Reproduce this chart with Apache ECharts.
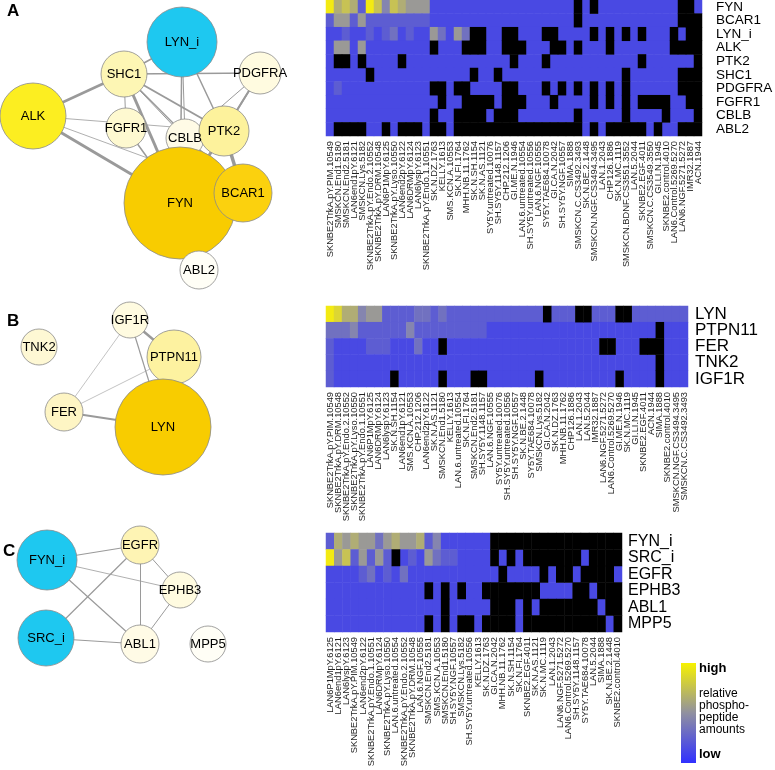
<!DOCTYPE html>
<html><head><meta charset="utf-8">
<script src="https://cdn.jsdelivr.net/npm/echarts@6/dist/echarts.min.js"></script>
<style>html,body{margin:0;padding:0;background:#fff}#c{width:775px;height:770px}</style>
</head><body><div id="c"></div>
<script>
// ---------- heatmap A ----------
const rowsA = ['FYN','BCAR1','LYN_i','ALK','PTK2','SHC1','PDGFRA','FGFR1','CBLB','ABL2'];
const colsA = ['SKNBE2TrkA.pY.PIM.10549','SMSKCN.End1.5180','SMSKCN.End2.5181','LAN6end1pY.6121','SMSKCN.Lys.5182','SKNBE2TrkA.pY.Endo.2.10552','SKNBE2TrkA.pY.DRM.10548','LAN6P1MpY.6125','SKNBE2TrkA.pY.Lyso.10550','LAN6end2pY.6122','LAN6DRMpY.6124','LAN6lyspY.6123','SKNBE2TrkA.pY.Endo.1.10551','SK.N.DZ.1763','KELLY.1613','SMS.KCN.A.10553','SK.N.FI.1764','MHH.NB.11.1762','SK.N.SH.1154','SK.N.AS.1121','SY5Y.untreated.10076','SH.SY5Y.1148.1157','CHP.212.1206','GI.ME.N.1946','LAN.6.untreated.10554','SH.SY5Y.untreated.10556','LAN.6.NGF.10555','SY5Y.TAE684.10078','GI.CA.N.2042','SH.SY5Y.NGF.10557','SIMA.1888','SMSKCN.C.CS3492.3493','SK.N.BE.2.1448','SMSKCN.NGF.CS3494.3495','LAN.1.2043','CHP126.1886','SK.N.MC.1119','SMSKCN.BDNF.CS3551.3552','LAN.5.2044','SKNBE2.EGF.4011','SMSKCN.C.CS3549.3550','GI.LI.N.1945','SKNBE2.control.4010','LAN6.Control.5269.5270','LAN6.NGF.5271.5272','IMR32.1887','ACN.1944'];
// value scale 0 (low) .. 9 (high); -1 = not measured (black)
const A_FYN    = [9,6,7,6,2,9,7,4,7,6,5,5,5,1,1,1,1,1,1,1,1,1,1,1,1,1,1,1,1,1,1,-1,1,-1,1,1,1,1,1,1,1,1,1,1,-1,-1,1];
const A_BCAR1  = [2,5,5,2,5,2,2,2,2,2,2,2,2,1,1,1,1,1,1,1,1,1,1,1,1,1,1,1,1,1,1,-1,1,1,1,1,1,1,1,1,1,1,1,1,-1,-1,-1];
const A_LYN_i  = [1,1,2,1,1,2,1,2,3,1,2,1,1,5,3,1,5,3,-1,-1,1,1,-1,-1,1,1,1,-1,-1,1,1,1,1,-1,1,-1,1,-1,1,-1,1,1,1,-1,1,-1,-1];
const A_ALK    = [1,5,5,1,5,1,1,1,1,1,1,1,1,-1,1,1,1,-1,-1,-1,1,1,-1,-1,-1,1,1,1,-1,-1,1,-1,1,1,1,-1,1,1,1,1,1,1,1,-1,-1,-1,-1];
const A_PTK2   = [1,-1,-1,1,-1,1,1,1,1,-1,1,1,1,1,1,1,1,1,1,1,1,1,1,-1,1,1,1,-1,1,1,1,1,1,1,1,1,1,1,1,-1,1,1,1,1,1,1,-1];
const A_SHC1   = [1,1,1,1,1,-1,1,1,1,1,1,1,1,1,1,1,1,1,-1,1,1,-1,1,1,1,1,1,1,1,1,1,1,1,1,1,1,1,-1,1,1,1,1,1,1,-1,-1,-1];
const A_PDGFRA = [1,2,1,1,1,1,1,1,1,1,1,1,1,-1,-1,1,-1,-1,1,1,1,1,-1,-1,1,1,1,-1,1,-1,1,-1,1,-1,1,-1,1,-1,1,1,1,1,1,1,-1,-1,-1];
const A_FGFR1  = [1,1,1,1,1,1,1,1,1,1,1,1,1,1,-1,1,1,-1,-1,-1,-1,1,-1,-1,-1,1,1,1,-1,1,1,1,1,-1,1,-1,1,-1,1,-1,-1,-1,-1,1,1,-1,-1];
const A_CBLB   = [1,1,1,1,1,1,1,1,1,1,1,1,1,-1,1,1,-1,-1,-1,-1,1,-1,-1,-1,1,1,1,1,1,1,1,-1,1,1,1,1,1,-1,1,1,1,1,-1,1,1,1,-1];
const A_ABL2   = [1,-1,-1,-1,-1,1,1,-1,1,-1,-1,-1,1,-1,-1,1,-1,-1,-1,-1,-1,-1,-1,-1,-1,-1,-1,-1,-1,-1,-1,-1,1,-1,1,-1,-1,-1,-1,-1,1,-1,1,1,-1,-1,-1];
const valuesA = [A_FYN,A_BCAR1,A_LYN_i,A_ALK,A_PTK2,A_SHC1,A_PDGFRA,A_FGFR1,A_CBLB,A_ABL2];

// ---------- heatmap B ----------
const rowsB = ['LYN','PTPN11','FER','TNK2','IGF1R'];
const colsB = ['SKNBE2TrkA.pY.PIM.10549','SKNBE2TrkA.pY.DRM.10548','SKNBE2TrkA.pY.Endo.2.10552','SKNBE2TrkA.pY.Lyso.10550','SKNBE2TrkA.pY.Endo.1.10551','LAN6P1MpY.6125','LAN6DRMpY.6124','LAN6lyspY.6123','SK.N.SH.1154','LAN6end1pY.6121','SMS.KCN.A.10553','CHP.212.1206','LAN6end2pY.6122','SK.N.AS.1121','SMSKCN.End1.5180','KELLY.1613','LAN.6.untreated.10554','SK.N.FI.1764','SMSKCN.End2.5181','SH.SY5Y.1148.1157','LAN.6.NGF.10555','SY5Y.untreated.10076','SH.SY5Y.untreated.10556','SH.SY5Y.NGF.10557','SK.N.BE.2.1448','SY5Y.TAE684.10078','SMSKCN.Lys.5182','GI.CA.N.2042','SK.N.DZ.1763','MHH.NB.11.1762','CHP126.1886','LAN.1.2043','LAN.5.2044','IMR32.1887','LAN6.NGF.5271.5272','LAN6.Control.5269.5270','GI.ME.N.1946','SK.N.MC.1119','GI.LI.N.1945','SKNBE2.EGF.4011','ACN.1944','SIMA.1888','SKNBE2.control.4010','SMSKCN.NGF.CS3494.3495','SMSKCN.C.CS3492.3493'];
const B_LYN    = [9,8,6,6,4,5,5,2,2,2,2,3,3,2,3,2,2,2,2,2,2,2,2,2,2,2,2,-1,2,2,2,-1,-1,2,2,2,-1,-1,2,2,2,2,2,2,2];
const B_PTPN11 = [3,3,3,4,2,2,2,2,2,2,4,2,2,2,2,2,2,2,2,2,1,1,1,1,1,1,1,1,1,1,1,1,1,1,1,1,1,1,1,1,1,-1,1,1,1];
const B_FER    = [2,1,1,1,1,2,2,2,1,1,1,3,1,1,-1,1,1,1,1,1,1,1,1,1,1,1,1,1,1,1,1,1,1,1,-1,-1,1,1,1,-1,-1,-1,1,1,1];
const B_TNK2   = [2,1,1,1,1,1,1,1,1,1,1,1,1,1,1,1,1,1,1,1,1,1,1,1,1,1,1,1,1,1,1,1,1,1,1,1,1,1,1,1,1,-1,1,1,1];
const B_IGF1R  = [2,1,1,1,1,1,1,1,-1,1,1,1,1,1,-1,1,1,1,-1,-1,1,1,1,1,1,1,-1,1,1,1,1,1,1,1,1,1,-1,1,1,1,1,-1,1,1,1];
const valuesB = [B_LYN,B_PTPN11,B_FER,B_TNK2,B_IGF1R];

// ---------- heatmap C ----------
const rowsC = ['FYN_i','SRC_i','EGFR','EPHB3','ABL1','MPP5'];
const colsC = ['LAN6P1MpY.6125','LAN6end1pY.6121','LAN6lyspY.6123','SKNBE2TrkA.pY.PIM.10549','LAN6end2pY.6122','SKNBE2TrkA.pY.Endo.1.10551','LAN6DRMpY.6124','SKNBE2TrkA.pY.Lyso.10550','LAN.6.untreated.10554','SKNBE2TrkA.pY.Endo.2.10552','SKNBE2TrkA.pY.DRM.10548','LAN.6.NGF.10555','SMSKCN.End2.5181','SMS.KCN.A.10553','SMSKCN.End1.5180','SH.SY5Y.NGF.10557','SMSKCN.Lys.5182','SH.SY5Y.untreated.10556','KELLY.1613','SK.N.DZ.1763','GI.CA.N.2042','MHH.NB.11.1762','SK.N.SH.1154','SK.N.FI.1764','SKNBE2.EGF.4011','SK.N.AS.1121','SK.N.MC.1119','LAN.1.2043','LAN6.NGF.5271.5272','LAN6.Control.5269.5270','SH.SY5Y.1148.1157','SY5Y.TAE684.10078','LAN.5.2044','SIMA.1888','SK.N.BE.2.1448','SKNBE2.control.4010'];
const C_FYN_i = [2,6,5,6,5,5,3,5,6,5,5,6,2,4,1,1,1,1,1,1,-1,-1,-1,-1,-1,-1,-1,-1,-1,-1,-1,-1,-1,-1,-1,-1];
const C_SRC_i = [9,5,7,2,5,2,5,2,-1,1,2,1,5,3,2,2,1,1,1,1,-1,1,-1,1,-1,-1,-1,-1,-1,-1,-1,1,-1,-1,-1,-1];
const C_EGFR  = [1,1,1,1,2,3,1,2,1,3,1,1,1,1,1,1,1,1,1,1,1,-1,1,1,1,1,-1,1,-1,-1,1,-1,-1,-1,-1,1];
const C_EPHB3 = [1,1,1,1,1,1,1,1,1,1,1,1,-1,1,-1,1,-1,1,1,-1,-1,-1,-1,-1,-1,-1,1,1,1,1,-1,-1,1,-1,-1,-1];
const C_ABL1  = [1,1,1,1,1,1,1,1,1,1,1,1,1,1,-1,1,1,1,1,1,-1,-1,-1,1,-1,1,-1,-1,-1,-1,-1,-1,-1,1,-1,-1];
const C_MPP5  = [1,1,1,1,1,1,1,1,1,1,1,1,-1,1,-1,1,-1,-1,1,-1,-1,-1,-1,1,-1,-1,-1,-1,-1,-1,-1,-1,-1,-1,1,-1];
const valuesC = [C_FYN_i,C_SRC_i,C_EGFR,C_EPHB3,C_ABL1,C_MPP5];

// ---------- networks ----------
const netA_nodes = [
  ['LYN_i',182,42,70,'#1ec8f0'],['SHC1',124,74,46,'#fdf6b4'],['PDGFRA',260,73,42,'#fffbe0'],
  ['ALK',33,116,66,'#fcee21'],['FGFR1',126,128,40,'#fef9d0'],['CBLB',185,138,38,'#fffbe6'],
  ['FYN',180,203,112,'#f8cc00'],['PTK2',224,131,50,'#fdf29c'],['BCAR1',243,193,58,'#fbd10e'],
  ['ABL2',199,270,38,'#fffef6']];
const netA_links = [
  ['ALK','SHC1',2.5],['ALK','FYN',3],['ALK','PTK2',0.8],['ALK','BCAR1',0.8],
  ['SHC1','LYN_i',1.5],['SHC1','PDGFRA',1.5],['SHC1','FGFR1',1],['SHC1','CBLB',1],['SHC1','PTK2',2],
  ['SHC1','FYN',3],['SHC1','BCAR1',1.5],['LYN_i','PTK2',1.5],['LYN_i','FYN',1.5],['LYN_i','CBLB',1],
  ['PDGFRA','PTK2',2],['PDGFRA','CBLB',1],['PDGFRA','FYN',1.5],['PTK2','BCAR1',3.5],['PTK2','FYN',3],
  ['PTK2','CBLB',1.5],['FYN','BCAR1',4],['FYN','ABL2',1],['FYN','CBLB',1.5],['FGFR1','FYN',1.5]];
const netB_nodes = [
  ['IGF1R',130,320,36,'#fffbe0'],['TNK2',39,347,36,'#fef8d4'],['PTPN11',174,357,54,'#fdf2a0'],
  ['FER',64,412,38,'#fef5c4'],['LYN',163,427,96,'#f8cc00']];
const netB_links = [['IGF1R','PTPN11',2.5],['IGF1R','LYN',1.2],['IGF1R','FER',0.6],['PTPN11','LYN',3],['PTPN11','FER',0.6],['FER','LYN',2]];
const netC_nodes = [
  ['FYN_i',47,560,60,'#1ec8f0'],['EGFR',140,545,38,'#fef4b4'],['EPHB3',180,590,36,'#fffbe0'],
  ['SRC_i',46,638,56,'#1ec8f0'],['ABL1',140,644,38,'#fffbe6'],['MPP5',208,644,36,'#fffef6']];
const netC_links = [['FYN_i','EGFR',1.2],['FYN_i','ABL1',1.2],['FYN_i','EPHB3',0.8],['SRC_i','EGFR',1.2],['SRC_i','ABL1',1.2],['EGFR','EPHB3',1],['EGFR','ABL1',1],['EPHB3','ABL1',1]];

const FONT = 'Liberation Sans, Arial, Helvetica, sans-serif';
const chart = echarts.init(document.getElementById('c'));

function heatData(vals, missing){ const d=[]; vals.forEach((row,r)=>row.forEach((v,c)=>{ if((v<0)===missing) d.push([c,r,v]); })); return d; }
function graphSeries(nodes, links){
  return {type:'graph', coordinateSystem:'cartesian2d', xAxisIndex:3, yAxisIndex:3, z:5,
    data: nodes.map(n=>({name:n[0], value:[n[1],n[2]], symbolSize:n[3], itemStyle:{color:n[4], borderColor:'#8a8a8a', borderWidth:0.8}})),
    links: links.map(l=>({source:l[0], target:l[1], lineStyle:{width:l[2]}})),
    lineStyle:{color:'#9a9a9a', opacity:1, curveness:0},
    label:{show:true, position:'inside', color:'#000', fontSize:13, fontFamily:FONT},
    emphasis:{disabled:true}, animation:false};
}
function catX(gi, cols){ return {type:'category', gridIndex:gi, data:cols, position:'bottom', axisLine:{show:false}, axisTick:{show:false},
  axisLabel:{rotate:90, interval:0, fontSize:9.3, color:'#222', margin:5, fontFamily:FONT}, splitLine:{show:false}}; }
function catY(gi, rows, fs, mg){ return {type:'category', gridIndex:gi, data:rows, inverse:true, position:'right', axisLine:{show:false}, axisTick:{show:false},
  axisLabel:{interval:0, fontSize:fs, color:'#000', margin:mg, fontFamily:FONT}, splitLine:{show:false}}; }
function heatSeries(i, vals){ return [
  {type:'heatmap', xAxisIndex:i, yAxisIndex:i, data:heatData(vals,false), itemStyle:{borderWidth:0}, emphasis:{disabled:true}},
  {type:'heatmap', xAxisIndex:i, yAxisIndex:i, data:heatData(vals,true), itemStyle:{color:'#000', borderWidth:0}, emphasis:{disabled:true}}]; }

const option = {
  animation:false,
  grid:[
    {left:326, top:0, width:376, height:136, outerBoundsMode:'none'},
    {left:326, top:306, width:362, height:81, outerBoundsMode:'none'},
    {left:326, top:533, width:296, height:99, outerBoundsMode:'none'},
    {left:0, top:0, width:320, height:770, outerBoundsMode:'none'}
  ],
  xAxis:[catX(0,colsA), catX(1,colsB), catX(2,colsC), {type:'value', gridIndex:3, min:0, max:320, show:false}],
  yAxis:[catY(0,rowsA,13.5,14), catY(1,rowsB,17,7), catY(2,rowsC,16,6), {type:'value', gridIndex:3, min:0, max:770, inverse:true, show:false}],
  visualMap:{type:'continuous', show:false, min:0, max:9, seriesIndex:[0,2,4], dimension:2,
    inRange:{color:['#3535f5','#8f8fa6','#f3ea12']}},
  series:[].concat(heatSeries(0,valuesA), heatSeries(1,valuesB), heatSeries(2,valuesC), [
    graphSeries(netA_nodes, netA_links),
    graphSeries(netB_nodes, netB_links),
    graphSeries(netC_nodes, netC_links)]),
  graphic:[
    {type:'text', left:7, top:3, style:{text:'A', font:'bold 17px '+FONT, fill:'#000'}},
    {type:'text', left:7, top:313, style:{text:'B', font:'bold 17px '+FONT, fill:'#000'}},
    {type:'text', left:3, top:543, style:{text:'C', font:'bold 17px '+FONT, fill:'#000'}},
    {type:'rect', shape:{x:681, y:663, width:15, height:100}, style:{fill:new echarts.graphic.LinearGradient(0,0,0,1,[{offset:0,color:'#f7f200'},{offset:0.5,color:'#9090a0'},{offset:1,color:'#3030ff'}])}},
    {type:'text', left:699, top:662, style:{text:'high', font:'bold 13px '+FONT, fill:'#000'}},
    {type:'text', left:699, top:688, style:{text:'relative\nphospho-\npeptide\namounts', font:'12px '+FONT, lineHeight:12, fill:'#000'}},
    {type:'text', left:699, top:748, style:{text:'low', font:'bold 13px '+FONT, fill:'#000'}}
  ]
};
chart.setOption(option);
</script></body></html>
